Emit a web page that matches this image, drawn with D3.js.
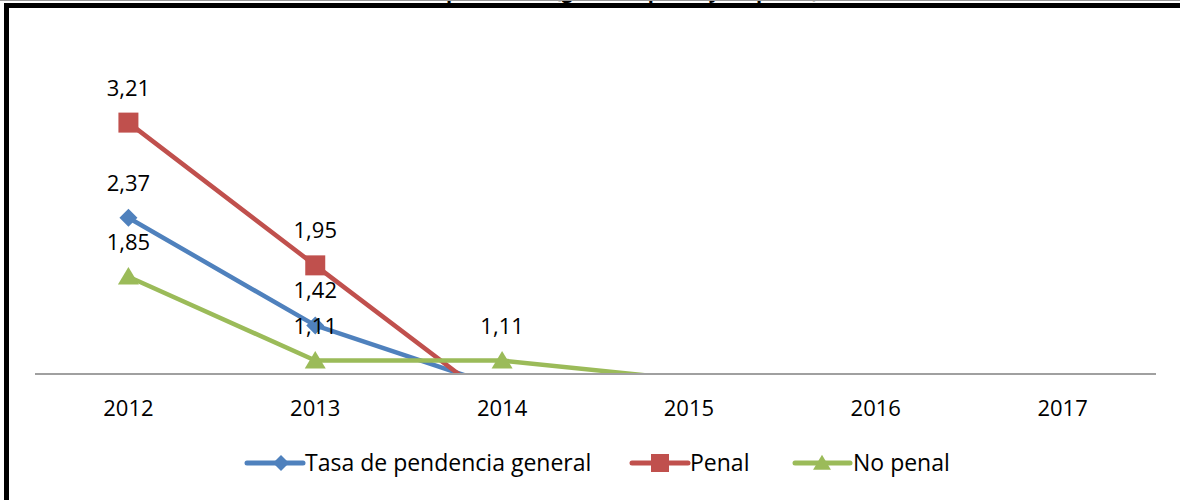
<!DOCTYPE html>
<html>
<head>
<meta charset="utf-8">
<script src="https://cdn.jsdelivr.net/npm/d3@7"></script>
<style>
  html, body { margin: 0; padding: 0; background: #fff; }
  svg { display: block; }
  text { font-family: "Open Sans", "Noto Sans", sans-serif; fill: #000; }
</style>
</head>
<body>
<svg id="chart" width="1180" height="500"></svg>
<script>
// ---- data ----
const years = ["2012", "2013", "2014", "2015", "2016", "2017"];
const general = [2.37, 1.42, 0.87, null, null, null];
const penal = [3.21, 1.95, 0.70, null, null, null];
const noPenal = [1.85, 1.11, 1.11, 0.94, null, null];
const seriesNames = ["Tasa de pendencia general", "Penal", "No penal"];
const seriesColors = ["#4F81BD", "#C0504D", "#9BBB59"];
const yDomain = [1, 3.5];
const titleText = "Tasa de pendencia (general, penal y no penal)";

const series = [
  { name: seriesNames[0], values: general, color: seriesColors[0], shape: "diamond" },
  { name: seriesNames[1], values: penal, color: seriesColors[1], shape: "square" },
  { name: seriesNames[2], values: noPenal, color: seriesColors[2], shape: "triangle" }
];

const svg = d3.select("#chart");
const W = 1180, H = 500;
const plot = { left: 35, right: 1156, top: 89.75, bottom: 373 };
const FS = 22;

svg.append("rect").attr("x", 0).attr("y", 0).attr("width", W).attr("height", H).attr("fill", "#fff");

// title, clipped by the top edge as in the source image
svg.append("text")
  .attr("x", 592).attr("y", -2)
  .attr("text-anchor", "middle")
  .attr("font-weight", "bold")
  .attr("font-size", 20)
  .text(titleText);

svg.append("rect")
  .attr("x", 6.5).attr("y", 5.5)
  .attr("width", W + 20).attr("height", H + 20)
  .attr("fill", "none").attr("stroke", "#000").attr("stroke-width", 5);
svg.append("line")
  .attr("x1", 0).attr("x2", W).attr("y1", 0.5).attr("y2", 0.5)
  .attr("stroke", "#999").attr("stroke-width", 1);

const x = d3.scaleBand().domain(years).range([plot.left, plot.right]).padding(0);
const xc = d => x(d) + x.bandwidth() / 2;
const y = d3.scaleLinear().domain(yDomain).range([plot.bottom, plot.top]);
const inDomain = v => v !== null && v >= yDomain[0] && v <= yDomain[1];

svg.append("defs").append("clipPath").attr("id", "plotclip")
  .append("rect")
  .attr("x", plot.left).attr("y", 0)
  .attr("width", plot.right - plot.left).attr("height", plot.bottom);

// x axis
const xAxis = d3.axisBottom(x).tickSize(0).tickPadding(0);
const gx = svg.append("g").attr("transform", `translate(0,${plot.bottom + 1})`).call(xAxis);
gx.select(".domain").attr("stroke", "#A0A0A0").attr("stroke-width", 2)
  .attr("d", `M${plot.left},0H${plot.right}`);
gx.selectAll(".tick text")
  .attr("y", 0).attr("dy", 0)
  .attr("transform", "translate(0,42)")
  .attr("font-size", FS)
  .style("font-family", "'Open Sans', sans-serif")
  .attr("fill", "#000");

function markerPath(shape, s) {
  if (shape === "diamond") {
    return `M0,${-s}L${s},0L0,${s}L${-s},0Z`;
  } else if (shape === "square") {
    return `M${-s},${-s}H${s}V${s}H${-s}Z`;
  } else {
    const h = s * 1.75;
    return `M0,${-h * 0.55}L${s * 1.05},${h * 0.45}L${-s * 1.05},${h * 0.45}Z`;
  }
}
const markerSize = { diamond: 9, square: 10, triangle: 10 };

const gPlot = svg.append("g").attr("clip-path", "url(#plotclip)");

const line = d3.line()
  .defined(d => d.v !== null)
  .x(d => xc(d.year))
  .y(d => y(d.v));

series.forEach(s => {
  const pts = years.map((yr, i) => ({ year: yr, v: s.values[i] }));
  gPlot.append("path")
    .datum(pts)
    .attr("d", line)
    .attr("fill", "none")
    .attr("stroke", s.color)
    .attr("stroke-width", 4.5)
    .attr("stroke-linejoin", "round");
  gPlot.selectAll(null)
    .data(pts.filter(d => inDomain(d.v)))
    .enter().append("path")
    .attr("transform", d => `translate(${xc(d.year)},${y(d.v)})`)
    .attr("d", markerPath(s.shape, markerSize[s.shape]))
    .attr("fill", s.color);
});

// data labels (only points inside the axis range)
series.forEach(s => {
  const pts = years.map((yr, i) => ({ year: yr, v: s.values[i] }))
    .filter(d => inDomain(d.v));
  svg.selectAll(null)
    .data(pts)
    .enter().append("text")
    .attr("x", d => xc(d.year))
    .attr("y", d => y(d.v) - 27)
    .attr("text-anchor", "middle")
    .attr("font-size", FS)
    .text(d => d3.format(".2f")(d.v).replace(".", ","));
});

// legend
const legendItems = [
  { x1: 247, x2: 303, mx: 281, tx: 305 },
  { x1: 632, x2: 688, mx: 660, tx: 690 },
  { x1: 795, x2: 850, mx: 822, tx: 853 }
];
const ly = 463;
const legendMarker = { diamond: 8, square: 9, triangle: 8.5 };
series.forEach((s, i) => {
  const it = legendItems[i];
  const g = svg.append("g");
  g.append("line")
    .attr("x1", it.x1).attr("x2", it.x2).attr("y1", ly).attr("y2", ly)
    .attr("stroke", s.color).attr("stroke-width", 5).attr("stroke-linecap", "round");
  g.append("path")
    .attr("transform", `translate(${it.mx},${ly})`)
    .attr("d", markerPath(s.shape, legendMarker[s.shape]))
    .attr("fill", s.color);
  g.append("text")
    .attr("x", it.tx).attr("y", ly + 8)
    .attr("font-size", 23)
    .text(s.name);
});
</script>
</body>
</html>
